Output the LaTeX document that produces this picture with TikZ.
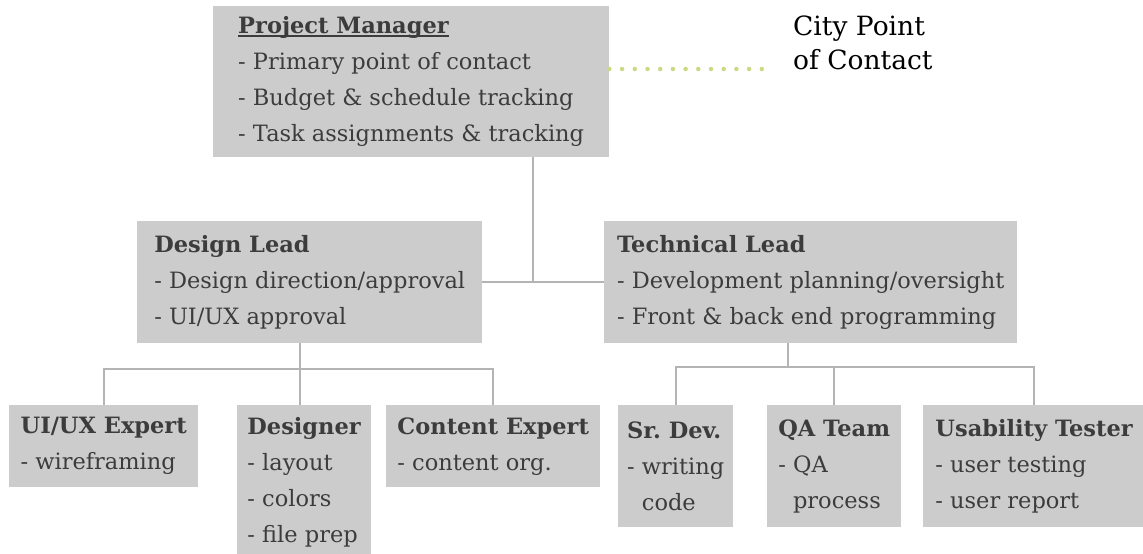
\documentclass[tikz,border=0pt]{standalone}
\usepackage{fontspec}
\setmainfont{DejaVu Serif}
\usetikzlibrary{positioning}

\definecolor{boxgray}{HTML}{CCCCCC}
\definecolor{inkgray}{HTML}{3C3C3C}
\definecolor{linegray}{HTML}{B4B4B4}
\definecolor{dotgreen}{HTML}{CDD882}

% underline that sits just under the baseline
\newcommand{\titleline}[1]{\setbox0\hbox{#1}\rlap{\rule[-3pt]{\wd0}{1.3pt}}\box0}

\begin{document}
\frenchspacing
\begin{tikzpicture}[
    x=1pt, y=-1pt,
    role/.style={rectangle, fill=boxgray, anchor=north west, inner sep=0pt,
        align=left, text=inkgray, font=\fontsize{22.5}{36}\selectfont},
    conn/.style={draw=linegray, line width=1.8pt},
    dots/.style={draw=dotgreen, line width=4.5pt, line cap=round,
        dash pattern=on 0pt off 12.7pt}
]
    \useasboundingbox (0,0) rectangle (1143,554);

    % Top level
    \node[role, minimum width=396pt, minimum height=151pt] (pm) at (213,6)
        {\titleline{\textbf{Project Manager}}\\- Primary point of contact\\
         - Budget \& schedule tracking\\- Task assignments \& tracking};
    \node[anchor=north west, inner sep=0pt, align=left,
        font=\fontsize{26.5}{34}\selectfont] (city) at (793,16) {City Point\\of Contact};

    % Leads
    \node[role, minimum width=345pt, minimum height=122pt] (design) at (137,221)
        {\textbf{Design Lead}\\- Design direction/approval\\- UI/UX approval};
    \node[role, minimum width=413pt, minimum height=122pt] (tech) at (604,221)
        {\textbf{Technical Lead}\\- Development planning/oversight\\
         - Front \& back end programming};

    % Design team
    \node[role, minimum width=189pt, minimum height=82pt] (uiux) at (9,405)
        {\textbf{UI/UX Expert}\\- wireframing};
    \node[role, minimum width=134pt, minimum height=154pt] (designer) at (237,405)
        {\textbf{Designer}\\- layout\\- colors\\- file prep};
    \node[role, minimum width=214pt, minimum height=82pt] (content) at (386,405)
        {\textbf{Content Expert}\\- content org.};

    % Technical team
    \node[role, minimum width=115pt, minimum height=122pt] (srdev) at (618,405)
        {\textbf{Sr. Dev.}\\- writing\\\phantom{- }code};
    \node[role, minimum width=134pt, minimum height=122pt] (qa) at (767,405)
        {\textbf{QA Team}\\- QA\\\phantom{- }process};
    \node[role, minimum width=222pt, minimum height=122pt] (usab) at (923,405)
        {\textbf{Usability Tester}\\- user testing\\- user report};

    % Junction points
    \coordinate (hub) at (533,282);
    \coordinate (dbus) at (300,369);
    \coordinate (tbus) at (788,367);
    \coordinate (cityend) at (763,69);

    % Connectors
    \draw[dots] (pm.east |- cityend) -- (cityend);
    \draw[conn] (pm.south -| hub) -- (hub);
    \draw[conn] (design.east) -- (tech.west);

    \draw[conn] (design.south -| dbus) -- (dbus);
    \draw[conn] (uiux.north) |- (dbus) -| (content.north);
    \draw[conn] (dbus) -- (designer.north -| dbus);

    \draw[conn] (tech.south -| tbus) -- (tbus);
    \draw[conn] (srdev.north) |- (tbus) -| (usab.north);
    \draw[conn] (qa.north) -- (qa.north |- tbus);
\end{tikzpicture}
\end{document}
